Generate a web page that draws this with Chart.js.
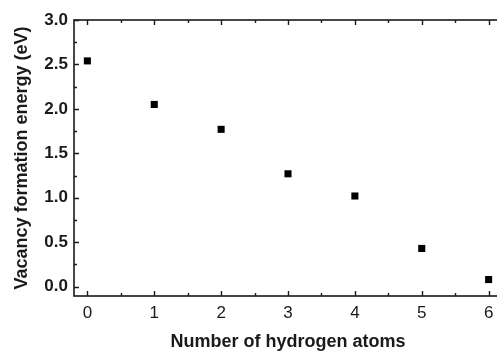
<!DOCTYPE html>
<html>
<head>
<meta charset="utf-8">
<script src="https://cdn.jsdelivr.net/npm/chart.js@4"></script>
<style>
  body { margin: 0; background: #fff; overflow: hidden; }
  canvas { display: block; }
</style>
</head>
<body>
<!-- canvas is a bit wider than the window: the reference crops the right frame edge -->
<canvas id="chart" width="507" height="353"></canvas>
<script>
// data
const hydrogenAtoms = [0, 1, 2, 3, 4, 5, 6];
const formationEnergy = [2.54, 2.05, 1.77, 1.27, 1.02, 0.43, 0.08];

const xTicks = [0, 1, 2, 3, 4, 5, 6];
const xMinorTicks = [0.5, 1.5, 2.5, 3.5, 4.5, 5.5];
const yTicks = [0, 0.5, 1.0, 1.5, 2.0, 2.5, 3.0];
const yMinorTicks = [0.25, 0.75, 1.25, 1.75, 2.25, 2.75];

const ink = '#1a1a1a';

// frame + inward tick marks, Origin style
const framePlugin = {
    id: 'frame',
    beforeDatasetsDraw(chart) {
        const ctx = chart.ctx;
        const a = chart.chartArea;
        const x = chart.scales.x, y = chart.scales.y;
        ctx.save();
        ctx.strokeStyle = ink;
        ctx.lineWidth = 1.6;
        ctx.strokeRect(a.left, a.top, a.right - a.left, a.bottom - a.top);
        ctx.lineWidth = 1.4;
        ctx.beginPath();
        const xt = (v, len) => {
            const px = Math.round(x.getPixelForValue(v)) + 0.5;
            ctx.moveTo(px, a.bottom); ctx.lineTo(px, a.bottom - len);
            ctx.moveTo(px, a.top); ctx.lineTo(px, a.top + len);
        };
        const yt = (v, len) => {
            const py = Math.round(y.getPixelForValue(v)) + 0.5;
            ctx.moveTo(a.left, py); ctx.lineTo(a.left + len, py);
            ctx.moveTo(a.right, py); ctx.lineTo(a.right - len, py);
        };
        xTicks.forEach(v => xt(v, 5));
        xMinorTicks.forEach(v => xt(v, 3));
        yTicks.forEach(v => yt(v, 5));
        yMinorTicks.forEach(v => yt(v, 3));
        ctx.stroke();
        ctx.restore();
    }
};

new Chart(document.getElementById('chart'), {
    type: 'scatter',
    data: {
        datasets: [{
            data: hydrogenAtoms.map((h, i) => ({ x: h, y: formationEnergy[i] })),
            pointStyle: 'rect',
            pointRadius: 5,
            pointHoverRadius: 5,
            backgroundColor: '#000',
            borderColor: '#000',
            borderWidth: 0
        }]
    },
    options: {
        responsive: false,
        animation: false,
        layout: { padding: { left: 0, top: 20, right: 0, bottom: 0 } },
        plugins: {
            legend: { display: false },
            tooltip: { enabled: false }
        },
        scales: {
            x: {
                type: 'linear',
                min: -0.2,
                max: 6.2,
                afterBuildTicks: s => { s.ticks = xTicks.map(v => ({ value: v })); },
                afterFit: s => { s.height = 57; s.paddingLeft = 0; s.paddingRight = 0; },
                grid: { display: false, drawTicks: false },
                border: { display: false },
                ticks: {
                    padding: 7,
                    color: ink,
                    font: { family: 'Liberation Sans, Arial', size: 17 },
                    callback: v => String(v)
                },
                title: {
                    display: true,
                    text: 'Number of hydrogen atoms',
                    color: ink,
                    font: { family: 'Liberation Sans, Arial', size: 18, weight: 'bold' },
                    padding: { top: 0, bottom: 0 }
                }
            },
            y: {
                type: 'linear',
                min: -0.105,
                max: 3.0,
                afterBuildTicks: s => { s.ticks = yTicks.map(v => ({ value: v })); },
                afterFit: s => { s.width = 74; s.paddingTop = 0; s.paddingBottom = 0; },
                grid: { display: false, drawTicks: false },
                border: { display: false },
                ticks: {
                    padding: 6,
                    color: ink,
                    font: { family: 'Liberation Sans, Arial', size: 17, weight: 'bold' },
                    callback: v => v.toFixed(1)
                },
                title: {
                    display: true,
                    text: 'Vacancy formation energy (eV)',
                    color: ink,
                    font: { family: 'Liberation Sans, Arial', size: 18, weight: 'bold' },
                    padding: { top: 11, bottom: 0 }
                }
            }
        }
    },
    plugins: [framePlugin]
});
</script>
</body>
</html>
